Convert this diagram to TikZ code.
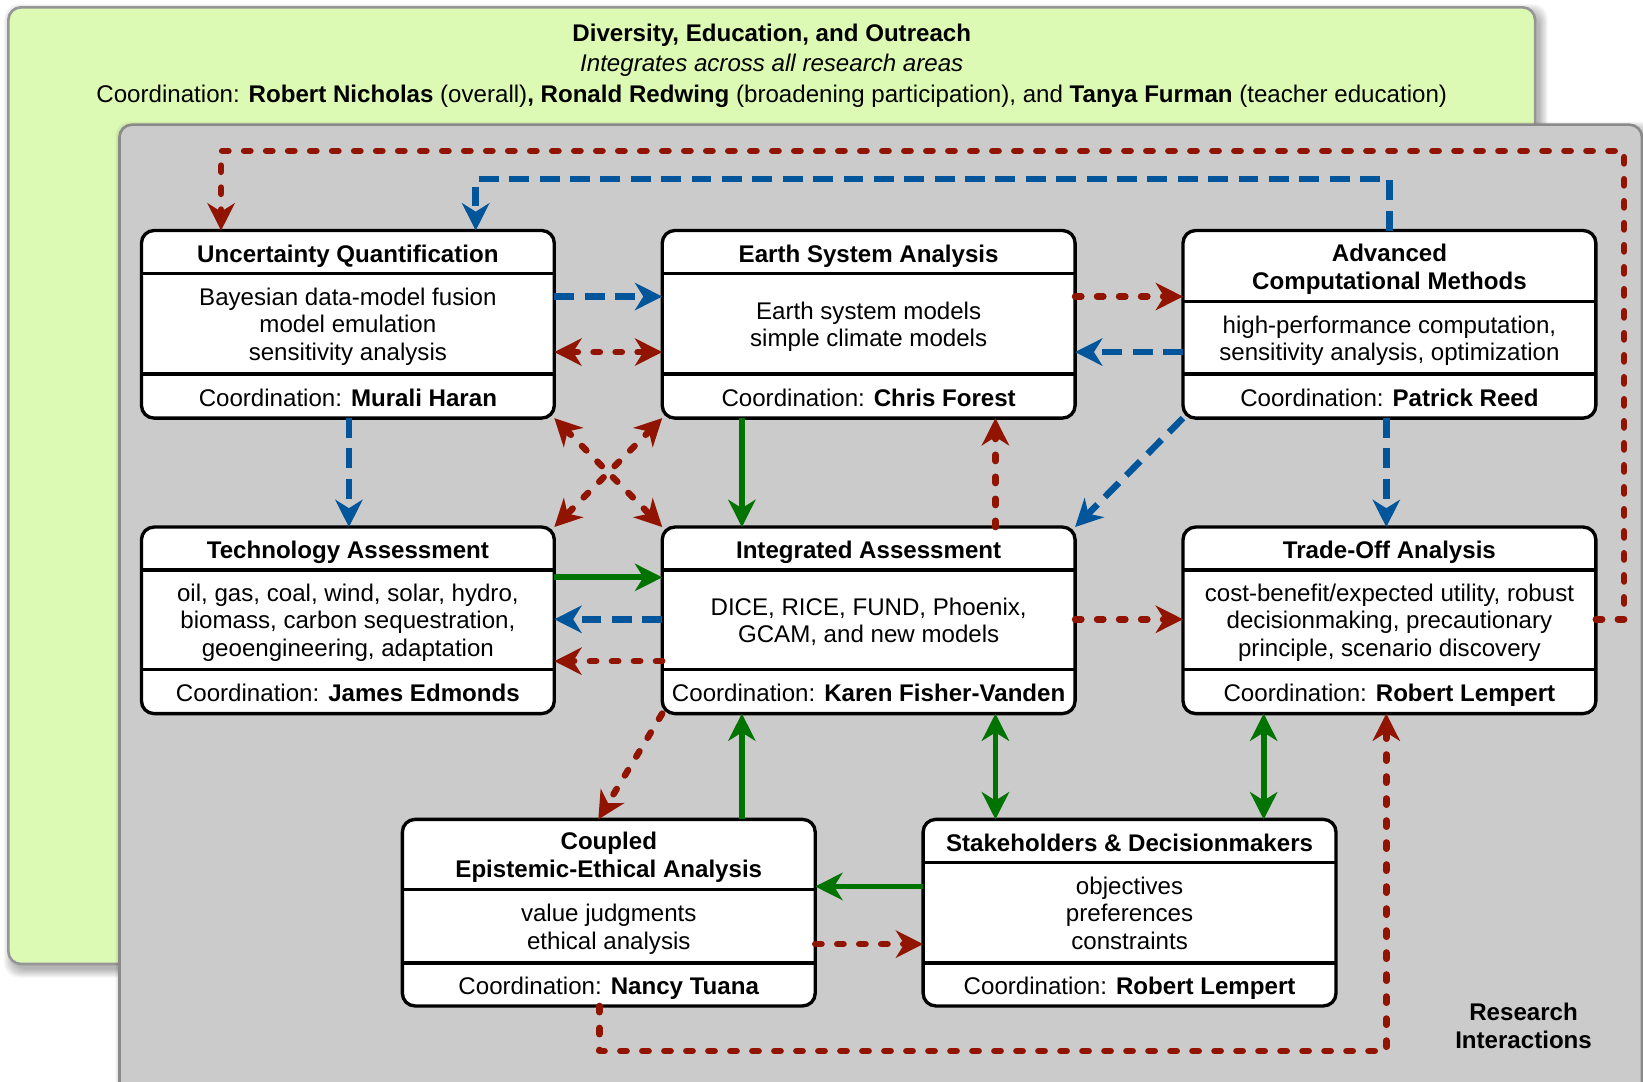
\documentclass[tikz,border=0pt]{standalone}
\usepackage{fontspec}
\setmainfont{Liberation Sans}
\usetikzlibrary{arrows.meta,fit}

\definecolor{outreachfill}{RGB}{221,250,180}
\definecolor{outreachedge}{RGB}{150,150,150}
\definecolor{panelfill}{RGB}{203,203,203}
\definecolor{paneledge}{RGB}{138,138,138}
\definecolor{linkred}{RGB}{145,20,0}
\definecolor{linkblue}{RGB}{0,85,155}
\definecolor{linkgreen}{RGB}{0,115,0}

\tikzset{
  boxframe/.style={draw=black, line width=3.2pt, fill=white, rounded corners=12pt,
    inner sep=0pt, outer sep=0pt},
  divline/.style={draw=black, line width=3.2pt},
  boxtext/.style={align=center, inner sep=0pt, font=\fontsize{23}{26.5}\selectfont,
    execute at begin node=\strut, execute at end node=\strut},
  boxtitle/.style={boxtext, font=\fontsize{23}{26.5}\selectfont\bfseries},
  redlink/.style={draw=linkred, line width=6.2pt, dash pattern=on 6pt off 15pt,
    line cap=round, line join=round},
  bluelink/.style={draw=linkblue, line width=6.2pt, dash pattern=on 19pt off 10pt},
  greenlink/.style={draw=linkgreen, line width=5.5pt},
  softshadow/.style={fill=black, opacity=0.035, rounded corners=14pt},
}

% #1 name, #2 left, #3 top, #4 first rule, #5 second rule, #6 bottom,
% #7 title, #8 topics, #9 coordinator
\newcommand{\researchbox}[9]{%
  \node[boxframe, fit={(#2,#3) (#2+394,#6)}] (#1) {};
  \coordinate (#1-r1) at (#2,#4);
  \coordinate (#1-r2) at (#2,#5);
  \draw[divline] (#1.west |- #1-r1) -- (#1.east |- #1-r1);
  \draw[divline] (#1.west |- #1-r2) -- (#1.east |- #1-r2);
  \node[boxtitle] (#1-title) at ({#2+197},{(#3+#4)/2+4.4}) {#7};
  \node[boxtext] (#1-topics) at ({#2+197},{(#4+#5)/2+4.4}) {#8};
  \node[boxtext] (#1-coord) at ({#2+197},{(#5+#6)/2+4.4}) {Coordination: \textbf{#9}};
}

\begin{document}
\begin{tikzpicture}[x=1pt, y=-1pt, >={Stealth[length=26pt,width=26pt,inset=8pt]}]
\useasboundingbox (0,0) rectangle (1568,1032);
\clip (0,0) rectangle (1568,1032);
\fill[white] (0,0) rectangle (1568,1032);

% outreach panel
\foreach \e in {0,...,8}
  \path[softshadow] ({12-\e},{12-\e}) rectangle ({1469+\e},{925+\e});
\node[draw=outreachedge, line width=2.5pt, fill=outreachfill, rounded corners=12pt,
  inner sep=0pt, outer sep=0pt, fit={(8,7) (1465,920)}] (outreach) {};
\node[boxtitle] (outreach-title) at (736.5,34) {Diversity, Education, and Outreach};
\node[boxtext, font=\fontsize{23}{26.5}\selectfont\itshape] (outreach-sub) at (736.5,63)
  {Integrates across all research areas};
\node[boxtext] (outreach-coord) at (736.5,93)
  {Coordination: \textbf{Robert Nicholas} (overall)\textbf{, Ronald Redwing} (broadening participation), and \textbf{Tanya Furman} (teacher education)};

% research panel
\foreach \e in {0,...,8}
  \path[softshadow] ({118-\e},{124-\e}) rectangle ({1571+\e},{1060+\e});
\node[draw=paneledge, line width=2.5pt, fill=panelfill, rounded corners=12pt,
  inner sep=0pt, outer sep=0pt, fit={(114,119) (1567,1055)}] (research) {};
\node[boxtitle] (research-label) at (1454,983) {Research\\Interactions};

% research areas
\researchbox{uq}{135}{220}{261}{357}{399}{Uncertainty Quantification}
  {Bayesian data-model fusion\\model emulation\\sensitivity analysis}{Murali Haran}
\researchbox{esa}{632}{220}{261}{357}{399}{Earth System Analysis}
  {Earth system models\\simple climate models}{Chris Forest}
\researchbox{acm}{1129}{220}{288}{357}{399}{Advanced\\Computational Methods}
  {high-performance computation,\\sensitivity analysis, optimization}{Patrick Reed}
\researchbox{ta}{135}{503}{544}{639}{681}{Technology Assessment}
  {oil, gas, coal, wind, solar, hydro,\\biomass, carbon sequestration,\\geoengineering, adaptation}{James Edmonds}
\researchbox{ia}{632}{503}{544}{639}{681}{Integrated Assessment}
  {DICE, RICE, FUND, Phoenix,\\GCAM, and new models}{Karen Fisher-Vanden}
\researchbox{toa}{1129}{503}{544}{639}{681}{Trade-Off Analysis}
  {cost-benefit/expected utility, robust\\decisionmaking, precautionary\\principle, scenario discovery}{Robert Lempert}
\researchbox{ceea}{384}{782}{849}{919}{960}{Coupled\\Epistemic-Ethical Analysis}
  {value judgments\\ethical analysis}{Nancy Tuana}
\researchbox{sd}{881}{782}{823}{919}{960}{Stakeholders \& Decisionmakers}
  {objectives\\preferences\\constraints}{Robert Lempert}

% long feedback routes
\draw[redlink,->] (toa.east |- 0,591) -| (1550,144) -| (uq.north -| 211,0);
\draw[bluelink,->] (acm.north -| 1326,0) |- (454,171) -- (uq.north -| 454,0);
\draw[redlink,->] (ceea.south -| 572,0) |- (1323,1003) -- (toa.south -| 1323,0);

% top row
\draw[bluelink,->] (uq.east |- 0,283) -- (esa.west |- 0,283);
\draw[redlink,<->] (uq.east |- 0,336) -- (esa.west |- 0,336);
\draw[redlink,->] (esa.east |- 0,283) -- (acm.west |- 0,283);
\draw[bluelink,->] (acm.west |- 0,336) -- (esa.east |- 0,336);

% between top and middle rows
\draw[bluelink,->] (uq.south -| 333,0) -- (ta.north -| 333,0);
\draw[redlink,<->] (uq.south east) -- (ia.north west);
\draw[redlink,<->] (esa.south west) -- (ta.north east);
\draw[greenlink,->] (esa.south -| 708,0) -- (ia.north -| 708,0);
\draw[redlink,->] (ia.north -| 950,0) -- (esa.south -| 950,0);
\draw[bluelink,->] (acm.south west) -- (ia.north east);
\draw[bluelink,->] (acm.south -| 1323,0) -- (toa.north -| 1323,0);

% middle row
\draw[greenlink,->] (ta.east |- 0,551) -- (ia.west |- 0,551);
\draw[bluelink,->] (ia.west |- 0,591) -- (ta.east |- 0,591);
\draw[redlink,->] (ia.west |- 0,631) -- (ta.east |- 0,631);
\draw[redlink,->] (ia.east |- 0,591) -- (toa.west |- 0,591);

% between middle and bottom rows
\draw[redlink,->] (ia.south west) -- (ceea.north -| 571,0);
\draw[greenlink,->] (ceea.north -| 708,0) -- (ia.south -| 708,0);
\draw[greenlink,<->] (ia.south -| 950,0) -- (sd.north -| 950,0);
\draw[greenlink,<->] (toa.south -| 1206,0) -- (sd.north -| 1206,0);

% bottom row
\draw[greenlink,->] (sd.west |- 0,846) -- (ceea.east |- 0,846);
\draw[redlink,->] (ceea.east |- 0,901) -- (sd.west |- 0,901);
\end{tikzpicture}
\end{document}
